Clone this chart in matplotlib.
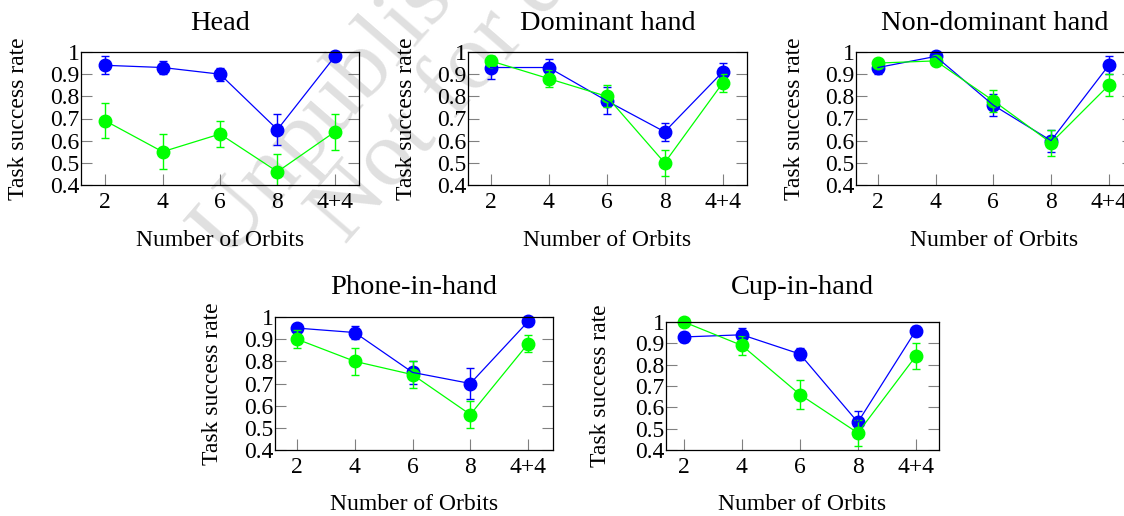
import matplotlib
matplotlib.use("Agg")
import matplotlib.pyplot as plt

plt.rcParams['font.family'] = ['Liberation Serif', 'DejaVu Serif']
plt.rcParams['font.size'] = 17

orbits = ["2", "4", "6", "8", "4+4"]
ylim = (0.4, 1.0)
yticks = [0.4, 0.5, 0.6, 0.7, 0.8, 0.9, 1.0]
ytick_labels = ["0.4", "0.5", "0.6", "0.7", "0.8", "0.9", "1"]

titles = ["Head", "Dominant hand", "Non-dominant hand", "Phone-in-hand", "Cup-in-hand"]

# blue series
blue_mean = [
    [0.94, 0.93, 0.90, 0.65, 0.98],
    [0.93, 0.93, 0.78, 0.64, 0.91],
    [0.93, 0.98, 0.76, 0.60, 0.94],
    [0.95, 0.93, 0.75, 0.70, 0.98],
    [0.93, 0.94, 0.85, 0.53, 0.96],
]
blue_err = [
    [0.04, 0.03, 0.03, 0.07, 0.02],
    [0.05, 0.04, 0.06, 0.04, 0.04],
    [0.03, 0.01, 0.05, 0.05, 0.04],
    [0.02, 0.03, 0.05, 0.07, 0.02],
    [0.025, 0.03, 0.03, 0.055, 0.02],
]
# green series
green_mean = [
    [0.69, 0.55, 0.63, 0.46, 0.64],
    [0.96, 0.88, 0.80, 0.50, 0.86],
    [0.95, 0.96, 0.78, 0.59, 0.85],
    [0.90, 0.80, 0.74, 0.56, 0.88],
    [1.00, 0.89, 0.66, 0.48, 0.84],
]
green_err = [
    [0.08, 0.08, 0.06, 0.08, 0.08],
    [0.02, 0.04, 0.05, 0.06, 0.04],
    [0.02, 0.01, 0.05, 0.06, 0.05],
    [0.04, 0.06, 0.06, 0.06, 0.04],
    [0.0, 0.045, 0.07, 0.06, 0.06],
]

W, H = 1124, 516
# axes boxes in pixels: left, top, right, bottom
boxes = [
    (81, 52, 359, 185),
    (468, 52, 747, 185),
    (856, 52, 1133, 185),
    (275, 317, 553, 450),
    (666, 322, 939, 450),
]
xlims = [(-0.42, 4.42), (-0.39, 4.42), (-0.38, 4.42), (-0.38, 4.43), (-0.31, 4.4)]

fig = plt.figure(figsize=(W / 100, H / 100), dpi=100)

# draft watermark behind the plots
wm = dict(fontsize=68, color='#e0e0e0', rotation=49, ha='left', va='baseline',
          rotation_mode='anchor', zorder=-5)
fig.text(228 / W, 1 - 262 / H, "Unpublished working draft.", **wm)
fig.text(345 / W, 1 - 245 / H, "Not for distribution.", **wm)

x = list(range(len(orbits)))

for i, (l, t, r, b) in enumerate(boxes):
    ax = fig.add_axes([l / W, 1 - b / H, (r - l) / W, (b - t) / H])
    ax.set_facecolor('none')
    hpx = b - t
    wpx = r - l
    for mean, err, col in [(blue_mean[i], blue_err[i], '#0000ff'),
                           (green_mean[i], green_err[i], '#00ff00')]:
        ax.errorbar(x, mean, yerr=err, color=col, lw=0.9, elinewidth=1.0,
                    capsize=3.2, capthick=1.0)
        ax.plot(x, mean, 'o', color=col, ms=9, clip_on=False)
    ax.set_xlim(*xlims[i])
    ax.set_ylim(*ylim)
    ax.set_xticks(x)
    ax.set_xticklabels(orbits)
    ax.set_yticks(yticks)
    ax.set_yticklabels(ytick_labels)
    ax.tick_params(direction='in', length=8, width=0.8, color='#808080',
                   labelcolor='black', right=True)
    ax.tick_params(axis='x', pad=5)
    ax.tick_params(axis='y', pad=1)
    for s in ax.spines.values():
        s.set_linewidth(0.9)
    ax.set_title(titles[i], y=1 + (29 if i < 4 else 34) / hpx, va='center', pad=0)
    ax.set_xlabel("Number of Orbits")
    ax.xaxis.set_label_coords(0.5, -55 / hpx)
    ax.xaxis.label.set_va('center')
    ax.set_ylabel("Task success rate")
    ax.yaxis.set_label_coords((-66 if i == 4 else -62) / wpx, 0.5)
    ax.yaxis.label.set_va('center')

fig.savefig("out.png", dpi=100)
